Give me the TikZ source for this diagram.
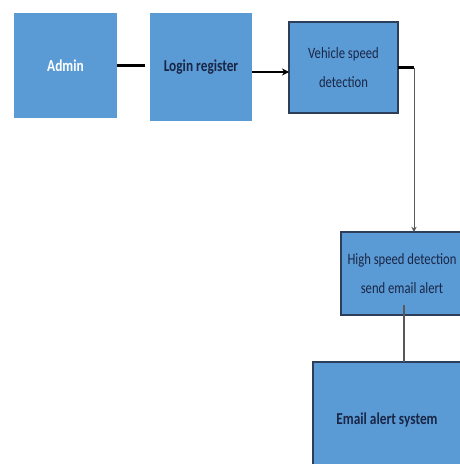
\documentclass[tikz,border=0pt]{standalone}
\usepackage{fontspec}
\newfontfamily\boxfont[FakeStretch=0.8]{Carlito}
\usetikzlibrary{arrows.meta}

\definecolor{boxblue}{RGB}{91,155,213}
\definecolor{boxedge}{RGB}{45,62,90}
\definecolor{boxtext}{RGB}{25,38,70}

\tikzset{
	block/.style={fill=boxblue, inner sep=0pt, outer sep=0pt, align=center,
		font=\boxfont\fontsize{9}{17}\selectfont, text=boxtext},
	edged/.style={block, draw=boxedge, line width=0.8pt},
	heavy/.style={font=\boxfont\fontsize{9.5}{17}\selectfont\bfseries},
	link/.style={line width=1.6pt, black},
	thinlink/.style={line width=0.5pt, gray!70!black}
}

\begin{document}
\begin{tikzpicture}[x=0.02cm, y=-0.02cm]
	
	\clip (0,0) rectangle (460,464);
	
	% boxes
	\node[block, heavy, text=white, minimum width=2.06cm, minimum height=2.1cm] (admin) at (65.5,65.5) {Admin};
	\node[block, heavy, minimum width=2.04cm, minimum height=2.16cm] (login) at (201,67) {Login register};
	\node[edged, minimum width=2.18cm, minimum height=1.82cm] (vehicle) at (343.5,67.5) {Vehicle speed\\detection};
	\node[edged, minimum width=2.44cm, minimum height=1.66cm] (highspeed) at (402,273.5) {High speed detection\\send email alert};
	\node[edged, heavy, minimum width=2.96cm, minimum height=2.32cm] (emailsys) at (387,420) {Email alert system};
	
	% links along the top row
	\draw[link, shorten >=0.1cm] (admin.east) -- (login.west |- admin.east);
	\draw[link, -{Stealth[length=4pt, width=4pt]}] ([yshift=-0.1cm]login.east) -- ([yshift=-0.1cm]login.east -| vehicle.west);
	
	% down to the high speed box
	\coordinate (bend) at ([xshift=0.32cm]vehicle.east);
	\draw[link] (vehicle.east) -- (bend);
	\draw[thinlink, -{Stealth[length=3pt, width=3pt]}] (bend) -- (bend |- highspeed.north);
	
	% down to the email box
	\draw[thinlink, line width=0.8pt] ([xshift=0.04cm, yshift=0.2cm]highspeed.south) -- ([xshift=0.04cm]highspeed.south |- emailsys.north);
	
\end{tikzpicture}
\end{document}
